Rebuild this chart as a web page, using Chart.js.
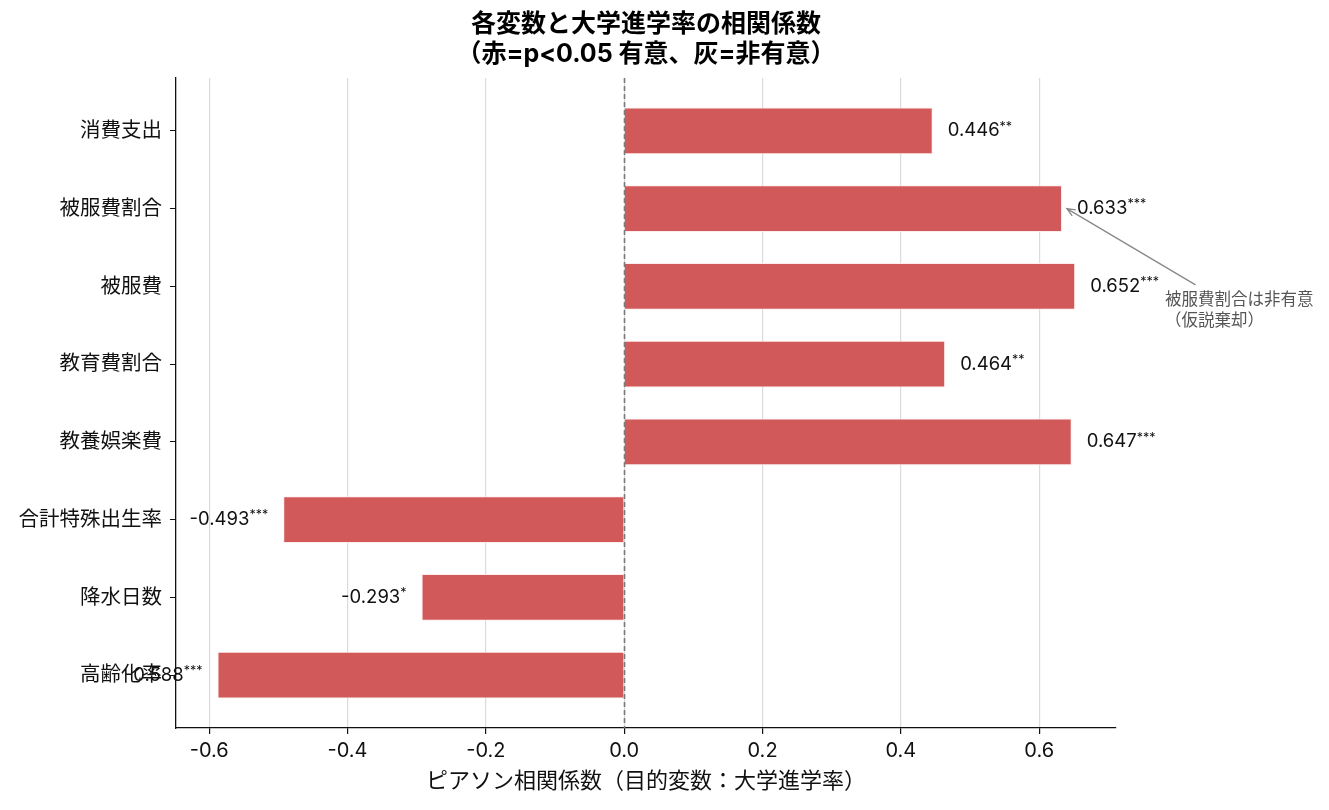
<!DOCTYPE html>
<html>
<head>
<meta charset="utf-8">
<script src="https://cdn.jsdelivr.net/npm/chart.js@4.4.1/dist/chart.umd.min.js"></script>
<style>
  html, body { margin: 0; padding: 0; background: #fff; }
  #wrap { width: 1329px; height: 810px; }
</style>
</head>
<body>
<div id="wrap"><canvas id="chart"></canvas></div>
<script>
const categories = ['消費支出', '被服費割合', '被服費', '教育費割合', '教養娯楽費', '合計特殊出生率', '降水日数', '高齢化率'];
const correlations = [0.446, 0.633, 0.652, 0.464, 0.647, -0.493, -0.293, -0.588];
const significance = ['**', '***', '***', '**', '***', '***', '*', '***'];
const xTicks = [-0.6, -0.4, -0.2, 0.0, 0.2, 0.4, 0.6];

const FONT = 'Inter, "Noto Sans CJK JP", sans-serif';
const barColor = 'rgb(210, 89, 89)';

const overlayPlugin = {
  id: 'overlay',
  afterDraw(chart) {
    const ctx = chart.ctx;
    const xs = chart.scales.x;
    const ys = chart.scales.y;
    const area = chart.chartArea;

    // zero line
    ctx.save();
    ctx.strokeStyle = '#7a7a7a';
    ctx.lineWidth = 1.6;
    ctx.setLineDash([5, 3]);
    const x0 = Math.round(xs.getPixelForValue(0)) + 0.5;
    ctx.beginPath();
    ctx.moveTo(x0, area.top);
    ctx.lineTo(x0, area.bottom);
    ctx.stroke();
    ctx.restore();

    // value labels
    const meta = chart.getDatasetMeta(0);
    ctx.save();
    ctx.fillStyle = '#111';
    ctx.textBaseline = 'middle';
    meta.data.forEach(function(bar, i) {
      const v = correlations[i];
      const num = v.toFixed(3);
      const st = significance[i];
      ctx.font = '18.5px ' + FONT;
      const wNum = ctx.measureText(num).width;
      ctx.font = '12.5px ' + FONT;
      const wSt = ctx.measureText(st).width;
      let start;
      if (v >= 0) {
        start = bar.x + 15;
      } else {
        start = bar.x - 15 - wNum - wSt;
      }
      ctx.textAlign = 'left';
      ctx.font = '18.5px ' + FONT;
      ctx.fillText(num, start, bar.y);
      ctx.font = '12.5px ' + FONT;
      ctx.fillText(st, start + wNum, bar.y - 4);
    });
    ctx.restore();

    // annotation
    const tipX = xs.getPixelForValue(0.640);
    const tipY = ys.getPixelForValue(1);
    const fromX = xs.getPixelForValue(0.826);
    const fromY = ys.getPixelForValue(1.98);
    ctx.save();
    ctx.strokeStyle = '#888';
    ctx.lineWidth = 1.3;
    ctx.beginPath();
    ctx.moveTo(fromX, fromY);
    ctx.lineTo(tipX, tipY);
    const ang = Math.atan2(tipY - fromY, tipX - fromX);
    const hl = 9;
    ctx.moveTo(tipX - hl * Math.cos(ang - 0.4), tipY - hl * Math.sin(ang - 0.4));
    ctx.lineTo(tipX, tipY);
    ctx.lineTo(tipX - hl * Math.cos(ang + 0.4), tipY - hl * Math.sin(ang + 0.4));
    ctx.stroke();
    ctx.fillStyle = '#555';
    ctx.font = '16.5px ' + FONT;
    ctx.textAlign = 'left';
    ctx.textBaseline = 'middle';
    const tx = xs.getPixelForValue(0.782);
    const ty = ys.getPixelForValue(2.17);
    ctx.fillText('被服費割合は非有意', tx, ty);
    ctx.fillText('（仮説棄却）', tx, ty + 21);
    ctx.restore();
  }
};

const data = {
  datasets: [{
    label: '相関係数',
    data: correlations.map(function(v, i) { return { x: v, y: i }; }),
    backgroundColor: barColor,
    borderColor: 'rgba(255, 235, 235, 0.9)',
    borderWidth: 1,
    categoryPercentage: 1.0,
    barPercentage: 0.6
  }]
};

const config = {
  type: 'bar',
  data: data,
  options: {
    indexAxis: 'y',
    responsive: true,
    maintainAspectRatio: false,
    animation: false,
    devicePixelRatio: 1,
    layout: { padding: { left: 0, right: 213, top: 0, bottom: 0 } },
    plugins: {
      legend: { display: false },
      tooltip: { enabled: false },
      title: {
        display: true,
        fullSize: false,
        text: ['各変数と大学進学率の相関係数', '（赤=p<0.05 有意、灰=非有意）'],
        color: '#000',
        font: { family: FONT, size: 25, weight: 'bold', lineHeight: 1.2 },
        padding: { top: 9, bottom: 9 }
      }
    },
    scales: {
      x: {
        type: 'linear',
        min: -0.648,
        max: 0.711,
        z: 1,
        afterBuildTicks: function(scale) {
          scale.ticks = xTicks.map(function(v) { return { value: v }; });
        },
        afterFit: function(scale) { scale.height = 82; },
        ticks: {
          color: '#111',
          font: { family: FONT, size: 20 },
          padding: 5,
          callback: function(v) { return v.toFixed(1); }
        },
        grid: {
          color: 'rgba(190, 190, 190, 0.55)',
          lineWidth: 1.2,
          tickColor: '#111',
          tickLength: 6
        },
        border: { color: '#111', width: 1.3 },
        title: {
          display: true,
          text: 'ピアソン相関係数（目的変数：大学進学率）',
          color: '#111',
          font: { family: FONT, size: 22, lineHeight: 1.2 },
          padding: { top: 0, bottom: 15 }
        }
      },
      y: {
        type: 'linear',
        min: -0.68,
        max: 7.68,
        reverse: true,
        offset: false,
        afterBuildTicks: function(scale) {
          scale.ticks = categories.map(function(c, i) { return { value: i }; });
        },
        afterFit: function(scale) { scale.width = 176; },
        ticks: {
          color: '#111',
          font: { family: FONT, size: 20.5 },
          padding: 8,
          autoSkip: false,
          callback: function(v) { return categories[v]; }
        },
        grid: {
          offset: false,
          drawOnChartArea: false,
          tickColor: '#111',
          tickLength: 6
        },
        border: { color: '#111', width: 1.3 }
      }
    }
  },
  plugins: [overlayPlugin]
};

const myChart = new Chart(
  document.getElementById('chart'),
  config
);
</script>
</body>
</html>
